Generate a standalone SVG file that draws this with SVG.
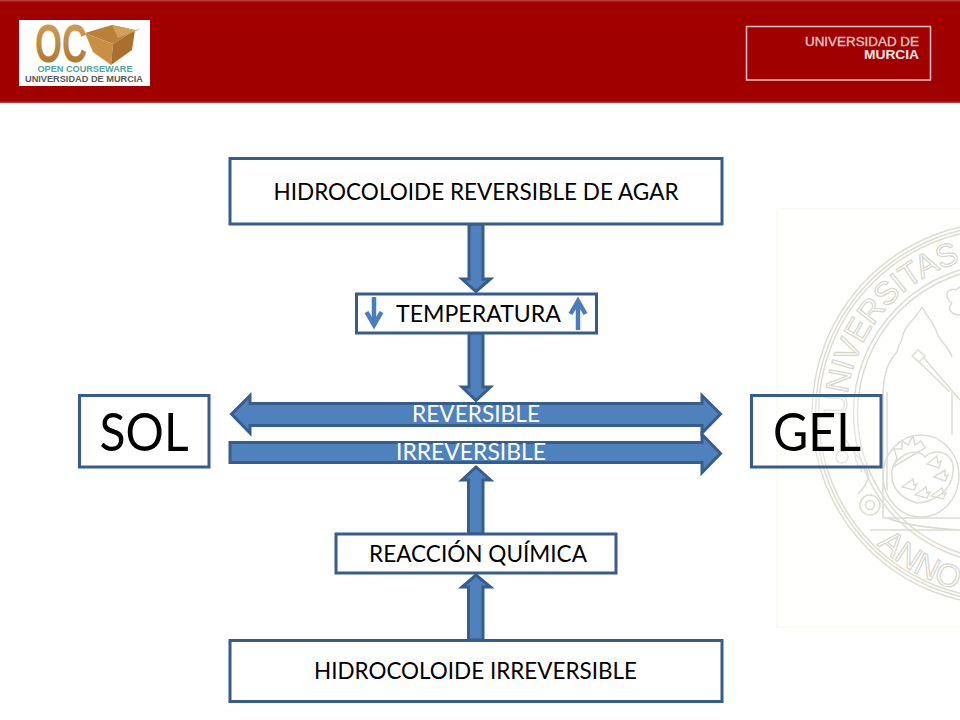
<svg xmlns="http://www.w3.org/2000/svg" width="960" height="720" viewBox="0 0 960 720">
<style>
.box{fill:#fff;stroke:#385D8A;stroke-width:3}
.arr{fill:#4F81BD;stroke:#385D8A;stroke-width:3;stroke-linejoin:miter}
.thin{fill:none;stroke:#4A7EBB;stroke-width:4.500}
.t{font-family:"Lato","Carlito","Noto Sans",sans-serif;text-anchor:middle;fill:#000}
.w{fill:#fff}
.s{fill:none;stroke:#DCDCD3;stroke-width:1.500}
.st{font-family:"Liberation Sans Narrow","Liberation Sans",sans-serif;fill:#fff;stroke:#D6D6CD;stroke-width:1.200}
</style>
<defs>
<path id="up" d="M846.500 416.500A157 157 0 0 1 989.500 257"/>
<path id="lo" d="M877 544.400A182 182 0 0 0 987.600 594.800"/>
<linearGradient id="g" x1="0" y1="0" x2="0" y2="1"><stop offset="0" stop-color="#D9A560"/><stop offset="1" stop-color="#A8702A"/></linearGradient>
</defs>
<rect width="960" height="720" fill="#fff"/>
<g id="seal">
<rect x="777" y="209" width="190" height="418" fill="#FFFFFE" stroke="#F6F6F1"/>
<circle class="s" cx="1003.500" cy="413.500" r="191.500"/>
<circle class="s" cx="1003.500" cy="413.500" r="188"/>
<circle class="s" cx="1003.500" cy="413.500" r="185"/>
<circle class="s" cx="1003.500" cy="413.500" r="150"/>
<circle class="s" cx="1003.500" cy="413.500" r="146"/>
<text class="st" font-size="32" letter-spacing="-0.500"><textPath href="#up">UNIVERSITAS · S</textPath></text>
<text class="st" font-size="32"><textPath href="#lo">ANNO</textPath></text>
<path class="s" d="M922 307C915 320 905 325 903 335C902 342 898 345 897 352C888 362 884 372 883 392V518H960M922 307C929 320 935 325 937 333C940 342 948 345 952 357"/>
<path class="s" d="M887 392V490M952 392V435M870 530H960M888 518C900 524 930 528 960 530"/>
<path class="s" d="M912 356l6-6 7 6-6 6zM919 362L950 392M924 358L960 400"/>
<path class="s" d="M952 303c-10-8-3-16 4-13 4-4 4-3 8-3M952 303c-6 6 0 12 8 12"/>
<ellipse class="s" cx="921" cy="476" rx="38" ry="41"/>
<path class="s" d="M917 503C900 498 890 488 892 470C894 458 915 445 925 457C935 447 955 452 953 472C952 490 935 502 917 503Z"/>
<path class="s" d="M893 467L925 448 921 441 915 445 913 436 908 445 902 441 902 449 894 449 897 458Z"/>
<path class="s" d="M927 464l10-8 1 7 3-2-2 7zM934 477l11-7 0 6 3-1-3 6zM902 487l11-8 1 6 3-1-3 6zM915 495l11-8 1 6 3-1-3 6zM931 496l11-8 1 6 3-1-3 6z"/>
<path class="s" d="M846 440c8 16 22 24 22 36 0 8-6 14-10 18M858 445c-8 10 0 18 4 27"/>
<circle class="s" cx="870" cy="505" r="10"/><circle class="s" cx="870" cy="505" r="4.500"/>
<circle class="s" cx="842" cy="457" r="6"/>
</g>
<g id="header">
<rect x="0" y="0" width="960" height="102" fill="#A00000"/>
<rect x="0" y="0" width="960" height="1.500" fill="#B53A3A"/>
<rect x="0" y="101.500" width="960" height="1.500" fill="#B53A3A"/>
<g id="logo">
<rect x="19" y="20" width="131" height="66" fill="#fff"/>
<text x="35" y="62" font-family="Liberation Sans,sans-serif" font-weight="bold" font-size="54" fill="url(#g)" textLength="52" lengthAdjust="spacingAndGlyphs">OC</text>
<path d="M85 33L112 25 135 30 113 44Z" fill="#B9803A"/>
<path d="M85 33L113 44 111 65 93 52Z" fill="#C98F45"/>
<path d="M113 44L135 30 132 50 111 65Z" fill="#A96F2D"/>
<path d="M112 25L118 38 141 29 135 30Z" fill="#D2A05C"/>
<text x="85" y="72" font-family="Liberation Sans,sans-serif" font-weight="bold" font-size="8.500" fill="#4FA3A0" text-anchor="middle" textLength="95" lengthAdjust="spacingAndGlyphs">OPEN COURSEWARE</text>
<text x="84" y="82" font-family="Liberation Sans,sans-serif" font-weight="bold" font-size="8.500" fill="#5A5A5A" text-anchor="middle" textLength="118" lengthAdjust="spacingAndGlyphs">UNIVERSIDAD DE MURCIA</text>
</g>
<g id="um-logo">
<rect x="746.500" y="26.500" width="184" height="53.500" fill="none" stroke="#E8C4C4" stroke-width="1.500"/>
<text x="919" y="46" font-family="Liberation Sans,sans-serif" font-size="12.500" fill="#EBCACA" stroke="#EBCACA" stroke-width="0.300" text-anchor="end" textLength="114" lengthAdjust="spacingAndGlyphs">UNIVERSIDAD DE</text>
<text x="919" y="59" font-family="Liberation Sans,sans-serif" font-weight="bold" font-size="12.500" fill="#F7E8E8" text-anchor="end" textLength="55" lengthAdjust="spacingAndGlyphs">MURCIA</text>
</g>
</g>
<g id="connectors">
<path class="arr" d="M469 224V279H462L476 291.500 490.500 279H483V224Z"/>
<path class="arr" d="M469 333V387H462L476 400.500 490.500 387H483V333Z"/>
<path class="arr" d="M231.500 414L250 395.500V403.500H702V395.500L720.500 414 702 433V425.500H250V433Z"/>
<path class="arr" d="M230 442.500H702V434.500L720.500 453.500 702 472.500V462.500H230Z"/>
<path class="arr" d="M468.500 534V480H462L476 467 490.500 480H483V534Z"/>
<path class="arr" d="M468.500 640V587H462L476 575 490.500 587H483V640Z"/>
</g>
<g id="n1"><rect class="box" x="230" y="158.500" width="492" height="65.500"/>
<text class="t" x="476" y="200" font-size="23" textLength="405" lengthAdjust="spacingAndGlyphs">HIDROCOLOIDE REVERSIBLE DE AGAR</text></g>
<g id="n2"><rect class="box" x="356.500" y="294" width="240" height="39"/>
<text class="t" x="478.500" y="321.500" font-size="23" textLength="165" lengthAdjust="spacingAndGlyphs">TEMPERATURA</text>
<path class="thin" d="M374 297V325M366.500 312L374 325 381.500 312"/>
<path class="thin" d="M578 330V301M570.500 314L578 301 585.500 314"/></g>
<g id="n3"><rect x="79.500" y="395.500" width="129.500" height="71.500" fill="#fff" stroke="#385D8A" stroke-width="3"/>
<text class="t" x="144" y="451" font-size="52" textLength="89" lengthAdjust="spacingAndGlyphs">SOL</text></g>
<g id="n4"><rect x="751.500" y="395.500" width="129.500" height="71.500" fill="#fff" fill-opacity="0.300" stroke="#385D8A" stroke-width="3"/>
<text class="t" x="817" y="451" font-size="52" textLength="88" lengthAdjust="spacingAndGlyphs">GEL</text></g>
<g id="n5"><rect class="box" x="336" y="534" width="280" height="39"/>
<text class="t" x="478" y="562" font-size="23" textLength="218" lengthAdjust="spacingAndGlyphs">REACCIÓN QUÍMICA</text></g>
<g id="n6"><rect class="box" x="230" y="640.500" width="492" height="61"/>
<text class="t" x="475.500" y="679" font-size="23" textLength="323" lengthAdjust="spacingAndGlyphs">HIDROCOLOIDE IRREVERSIBLE</text></g>
<g id="labels">
<text class="t w" x="476" y="422" font-size="23" textLength="128" lengthAdjust="spacingAndGlyphs">REVERSIBLE</text>
<text class="t w" x="471" y="460" font-size="23" textLength="150" lengthAdjust="spacingAndGlyphs">IRREVERSIBLE</text>
</g>
</svg>
